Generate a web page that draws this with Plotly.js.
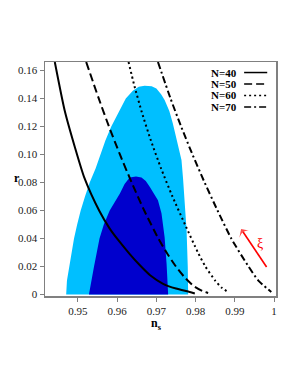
<!DOCTYPE html>
<html><head><meta charset="utf-8">
<script src="https://cdn.plot.ly/plotly-3.0.1.min.js"></script>
<style>html,body{margin:0;padding:0;background:#fff}#c{width:298px;height:385px}</style>
</head><body><div id="c"></div>
<script>
// 2-sigma (light) and 1-sigma (dark) contours
const outerNs = [0.9470,0.9472,0.9478,0.9484,0.9490,0.9498,0.9507,0.9518,0.9530,0.9545,0.9557,0.9570,0.9585,0.9603,0.9622,0.9640,0.9655,0.9670,0.9688,0.9700,0.9712,0.9721,0.9733,0.9742,0.9755,0.9764,0.9768,0.9773,0.9777,0.9780,0.9781];
const outerR  = [0,0.01,0.02,0.03,0.04,0.05,0.06,0.07,0.08,0.09,0.10,0.11,0.12,0.13,0.14,0.1455,0.1483,0.1490,0.1487,0.147,0.143,0.1388,0.131,0.1221,0.1079,0.096,0.0829,0.065,0.046,0.02,0];
const innerNs = [0.9528,0.9534,0.9541,0.9548,0.9555,0.9566,0.9581,0.9607,0.9619,0.9632,0.9648,0.9662,0.9673,0.9683,0.9704,0.9713,0.9721,0.9726,0.9730];
const innerR  = [0,0.01,0.02,0.03,0.04,0.05,0.06,0.0721,0.079,0.0836,0.0842,0.0836,0.081,0.0769,0.0674,0.058,0.041,0.022,0];
// model predictions
const n40Ns = [0.9441,0.9466,0.9492,0.9517,0.9554,0.9581,0.9603,0.9631,0.9658,0.9684,0.9716,0.9750,0.9785,0.9798];
const n40R  = [0.166,0.1316,0.1054,0.0829,0.06,0.0471,0.0388,0.0293,0.0209,0.0138,0.0079,0.0043,0.0019,0.0008];
const n50Ns = [0.9521,0.9553,0.9579,0.9607,0.9637,0.9669,0.9705,0.9726,0.9750,0.9773,0.9796,0.9818,0.9832];
const n50R  = [0.166,0.14,0.12,0.10,0.08,0.06,0.04,0.03,0.02,0.012,0.006,0.0025,0.0012];
const n60Ns = [0.9629,0.9643,0.9663,0.9686,0.9712,0.9741,0.9773,0.9806,0.9825,0.9850,0.9866,0.9883];
const n60R  = [0.166,0.15,0.13,0.11,0.09,0.07,0.05,0.03,0.02,0.01,0.005,0.0018];
const n70Ns = [0.9704,0.9736,0.9763,0.9792,0.9823,0.9856,0.9891,0.9935,0.9960,0.9993];
const n70R  = [0.166,0.14,0.12,0.10,0.08,0.06,0.04,0.02,0.01,0.0019];
const legendLabels = ['N=40','N=50','N=60','N=70'];
const xTickVals = [0.95,0.96,0.97,0.98,0.99,1];
const xTickText = ['0.95','0.96','0.97','0.98','0.99','1'];
const yTickVals = [0,0.02,0.04,0.06,0.08,0.10,0.12,0.14,0.16];
const yTickText = ['0','0.02','0.04','0.06','0.08','0.10','0.12','0.14','0.16'];
const arrowNs = [0.9981,0.9916];
const arrowR  = [0.0197,0.0468];

const serif = 'Liberation Serif, Times New Roman, serif';
const dashes = ['solid','8px,4px','2px,3px','7px,3px,2px,3px'];
const lineStyle = (i)=>({color:'#000', width:2, dash:dashes[i], shape:'spline', smoothing:0.6});
const traces = [
  {x: outerNs, y: outerR, fill:'toself', fillcolor:'#00BFFF', line:{width:0}, mode:'lines', hoverinfo:'skip'},
  {x: innerNs, y: innerR, fill:'toself', fillcolor:'#0000CD', line:{width:0}, mode:'lines', hoverinfo:'skip'},
  {x: n40Ns, y: n40R, mode:'lines', line:lineStyle(0)},
  {x: n50Ns, y: n50R, mode:'lines', line:lineStyle(1)},
  {x: n60Ns, y: n60R, mode:'lines', line:lineStyle(2)},
  {x: n70Ns, y: n70R, mode:'lines', line:lineStyle(3)},
  {x: arrowNs, y: arrowR, mode:'lines+markers', line:{color:'#ff0000', width:1.6},
   marker:{symbol:['circle','arrow-wide'], size:[0,9], color:'#ff0000', angleref:'previous', line:{width:0}}}
];
const annotations = [];
const shapes = [];
const legY0 = 0.955, legStep = 0.049;
legendLabels.forEach((t,i)=>{
  const yy = legY0 - i*legStep;
  annotations.push({xref:'paper', yref:'paper', x:0.838, y:yy, xanchor:'right', yanchor:'middle', showarrow:false,
    text:'<b>'+t+'</b>', font:{family:serif, size:11, color:'#000'}});
  shapes.push({type:'line', xref:'paper', yref:'paper', x0:0.862, x1:0.962, y0:yy, y1:yy, line:{color:'#000', width:1.5, dash:dashes[i]}});
});
annotations.push({x:0.9965, y:0.0364, xref:'x', yref:'y', showarrow:false, text:'ξ', font:{family:serif, size:14, color:'#ff0000'}});
annotations.push({xref:'paper', yref:'y', x:-0.122, y:0.083, xanchor:'center', yanchor:'middle', showarrow:false,
  text:'<b>r</b>', font:{family:serif, size:12, color:'#000'}});
annotations.push({xref:'paper', yref:'paper', x:0.483, y:-0.076, xanchor:'center', yanchor:'top', showarrow:false,
  text:'<b>n<sub>s</sub></b>', font:{family:serif, size:12, color:'#000'}});

const layout = {
  width:298, height:385, showlegend:false,
  paper_bgcolor:'#fff', plot_bgcolor:'#fff',
  margin:{l:45, r:22, t:62, b:89},
  xaxis:{range:[0.9416,1.0005], tickvals:xTickVals, ticktext:xTickText, ticks:'outside', ticklen:4, tickcolor:'#808080',
    showline:true, mirror:true, linecolor:'#808080', linewidth:1.5, showgrid:false, zeroline:false,
    tickfont:{family:serif, size:11, color:'#222'}},
  yaxis:{range:[-0.001,0.166], tickvals:yTickVals, ticktext:yTickText, ticks:'outside', ticklen:4, tickcolor:'#808080',
    showline:true, mirror:true, linecolor:'#808080', linewidth:1.5, showgrid:false, zeroline:false,
    tickfont:{family:serif, size:11, color:'#222'}},
  annotations: annotations, shapes: shapes
};
Plotly.newPlot('c', traces, layout, {displayModeBar:false, staticPlot:true});
</script></body></html>
